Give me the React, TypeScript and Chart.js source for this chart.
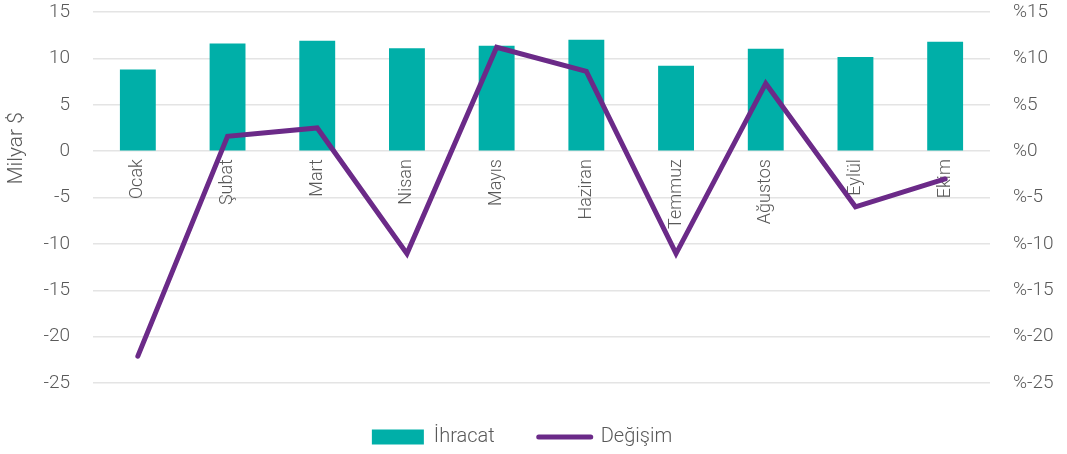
import React, { useEffect, useRef } from 'react';
import { Chart, registerables } from 'chart.js';

Chart.register(...registerables);

const months = ['Ocak', 'Şubat', 'Mart', 'Nisan', 'Mayıs', 'Haziran', 'Temmuz', 'Ağustos', 'Eylül', 'Ekim'];
const ihracat = [8.8, 11.6, 11.9, 11.1, 11.35, 12.0, 9.2, 11.05, 10.15, 11.8];
const degisim = [-22.1, 1.6, 2.5, -11.05, 11.2, 8.6, -11.05, 7.3, -6.0, -3.0];
const axisMin = -25;
const axisMax = 15;
const axisStep = 5;
const seriesNames = ['İhracat', 'Değişim'];
const yTitle = 'Milyar $';

const TEAL = '#00AFA8';
const PURPLE = '#6B2A88';
const TEXT = '#595959';
const FONT = 'Roboto';

const yTitlePlugin = {
  id: 'yTitle',
  afterDraw(chart: any) {
    const { ctx } = chart;
    const y = chart.scales.y.getPixelForValue(0.3);
    ctx.save();
    ctx.translate(17, y);
    ctx.rotate(-Math.PI / 2);
    ctx.fillStyle = TEXT;
    ctx.font = `300 21px ${FONT}`;
    ctx.textAlign = 'center';
    ctx.textBaseline = 'middle';
    ctx.fillText(yTitle, 0, 0);
    ctx.restore();
  },
};

export default function App() {
  const ref = useRef<HTMLCanvasElement>(null);
  useEffect(() => {
    const chart = new Chart(ref.current!, {
      type: 'bar',
      data: {
        labels: months,
        datasets: [
          {
            type: 'line',
            label: seriesNames[1],
            data: degisim,
            yAxisID: 'y1',
            borderColor: PURPLE,
            backgroundColor: PURPLE,
            borderWidth: 5,
            pointRadius: 0,
            tension: 0,
            borderCapStyle: 'round',
            borderJoinStyle: 'miter',
            order: 0,
          } as any,
          {
            type: 'bar',
            label: seriesNames[0],
            data: ihracat,
            yAxisID: 'y',
            backgroundColor: TEAL,
            barPercentage: 0.4,
            categoryPercentage: 1,
            order: 1,
          },
        ],
      },
      options: {
        animation: false,
        responsive: true,
        maintainAspectRatio: false,
        layout: { padding: { left: -23, right: 0, top: 12, bottom: -3 } },
        plugins: {
          tooltip: { enabled: false },
          legend: {
            position: 'bottom',
            labels: {
              usePointStyle: true,
              pointStyleWidth: 52,
              boxHeight: 15,
              padding: 44,
              color: TEXT,
              font: { family: FONT, size: 20, weight: '300' as any },
              generateLabels: () => [
                {
                  text: seriesNames[0],
                  fillStyle: TEAL,
                  strokeStyle: TEAL,
                  lineWidth: 0,
                  pointStyle: 'rect',
                  datasetIndex: 1,
                  fontColor: TEXT,
                } as any,
                {
                  text: seriesNames[1],
                  fillStyle: PURPLE,
                  strokeStyle: PURPLE,
                  lineWidth: 5,
                  lineCap: 'round',
                  pointStyle: 'line',
                  datasetIndex: 0,
                  fontColor: TEXT,
                } as any,
              ],
            },
          },
        },
        scales: {
          x: {
            position: { y: 0 } as any,
            grid: { display: false, drawTicks: false },
            border: { display: false },
            ticks: {
              minRotation: 90,
              maxRotation: 90,
              padding: 8,
              color: TEXT,
              font: { family: FONT, size: 18, weight: '300' as any },
            },
          },
          y: {
            position: 'left',
            min: axisMin,
            max: axisMax,
            afterFit: (s: any) => {
              s.width = 116;
            },
            grid: {
              color: '#E4E4E4',
              lineWidth: 1.5,
              drawTicks: true,
              tickLength: 23,
              tickColor: 'rgba(0,0,0,0)',
            },
            border: { display: false },
            ticks: {
              stepSize: axisStep,
              padding: 0,
              color: TEXT,
              font: { family: FONT, size: 19, weight: '300' as any },
            },
          },
          y1: {
            position: 'right',
            min: axisMin,
            max: axisMax,
            afterFit: (s: any) => {
              s.width = 77;
            },
            grid: {
              display: true,
              drawOnChartArea: false,
              drawTicks: true,
              tickLength: 23,
              tickColor: 'rgba(0,0,0,0)',
            },
            border: { display: false },
            ticks: {
              stepSize: axisStep,
              padding: 0,
              color: TEXT,
              font: { family: FONT, size: 19, weight: '300' as any },
              callback: (v: any) => '%' + v,
            },
          },
        },
      },
      plugins: [yTitlePlugin],
    });
    return () => chart.destroy();
  }, []);
  return (
    <div style={{ position: 'absolute', left: 0, top: 0, width: 1067, height: 454 }}>
      <canvas ref={ref} />
    </div>
  );
}
